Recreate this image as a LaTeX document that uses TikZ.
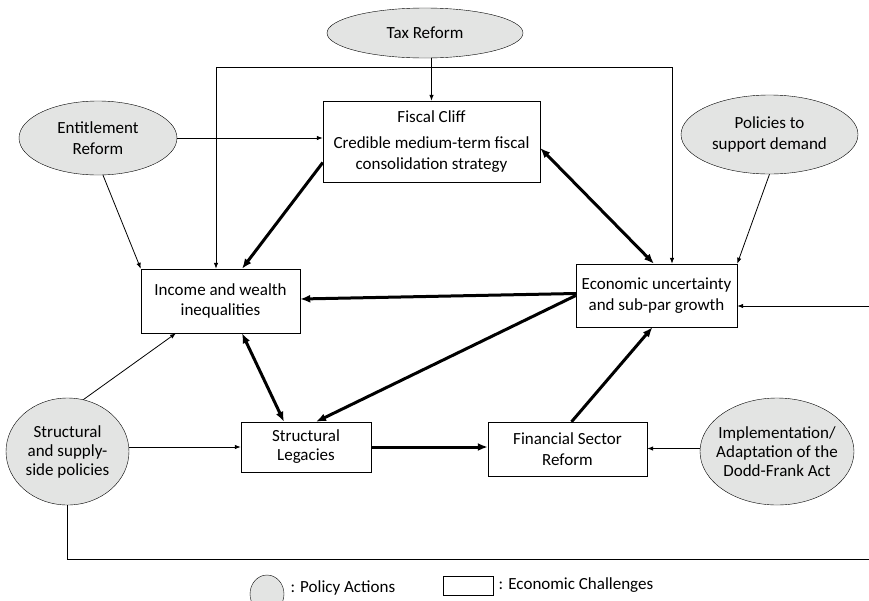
\documentclass[tikz,border=0pt]{standalone}
\usepackage{fontspec}
\setmainfont{Carlito}
\usetikzlibrary{shapes.geometric}
\usetikzlibrary{positioning}
\usetikzlibrary{arrows.meta}
\definecolor{policygrey}{RGB}{227,228,227}
\tikzset{policy/.style={ellipse, draw, fill=policygrey, inner sep=0pt, align=center},
challenge/.style={rectangle, draw, fill=white, inner sep=0pt, align=center},
weak/.style={-{Latex[length=6pt,width=4.5pt]}, line width=0.8pt},
strong/.style={-{Latex[length=10pt,width=8pt]}, line width=3pt},
mutual/.style={{Latex[length=10pt,width=8pt]}-{Latex[length=10pt,width=8pt]}, line width=3pt}}

\begin{document}
\begin{tikzpicture}[x=1pt, y=-1pt, font=\fontsize{17}{20.5}\selectfont]
\useasboundingbox (0,0) rectangle (869,600);
% policy actions
\node[policy, minimum width=196pt, minimum height=50pt] (tax) at (425,33) {Tax Reform};
\node[policy, minimum width=158pt, minimum height=74pt] (entitle) at (98,138) {Entitlement\\Reform};
\node[policy, minimum width=177pt, minimum height=79pt] (demand) at (769.5,134.5) {Policies to\\support demand};
\node[policy, minimum width=123pt, minimum height=107pt, font=\fontsize{17}{19}\selectfont] (supply) at (67.5,451.5) {Structural\\and supply-\\side policies};
\node[policy, minimum width=154pt, minimum height=107pt, inner xsep=-15pt, font=\fontsize{17}{19}\selectfont] (dodd) at (777,451.5) {Implementation/\\Adaptation of the\\Dodd-Frank Act};
% economic challenges
\node[challenge, minimum width=217pt, minimum height=81pt] (fiscal) at (431.5,141.5) {Fiscal Cliff\\[6pt]Credible medium-term fiscal\\consolidation strategy};
\node[challenge, minimum width=159pt, minimum height=64pt] (income) at (220.5,301) {Income and wealth\\inequalities};
\node[challenge, minimum width=161pt, minimum height=63pt] (eco) at (656.5,295.5) {Economic uncertainty\\and sub-par growth};
\node[challenge, minimum width=130pt, minimum height=50pt, font=\fontsize{17}{19}\selectfont] (legacies) at (306,447) {Structural\\Legacies};
\node[challenge, minimum width=159pt, minimum height=54pt] (financial) at (567.5,449) {Financial Sector\\Reform};
% legend
\node[policy, minimum width=34pt, minimum height=38pt] (keypolicy) at (267,594) {};
\node[anchor=west] (keypolicytext) at (287,588) {: Policy Actions};
\node[challenge, minimum width=50pt, minimum height=19pt] (keychallenge) at (468,585.5) {};
\node[right=2pt of keychallenge] (keychallengetext) {: Economic Challenges};

\coordinate (split) at (fiscal.north |- 0,67);
\draw[weak] (tax.south -| fiscal.north) -- (fiscal.north);
\draw[weak] (split) -| ([xshift=-4.5pt]income.north);
\draw[weak] (split) -| ([xshift=15.5pt]eco.north);
\draw[weak] (entitle.east) -- (entitle.east -| fiscal.west);
\draw[weak] ([xshift=5pt]entitle.south) -- (income.north west);
\draw[weak] (demand.south) -- (eco.north east);
\draw[weak] (supply.73) -- ([xshift=-44.5pt]income.south);
\draw[weak] (supply.east |- legacies.west) -- (legacies.west);
\draw[weak] ([yshift=3pt]dodd.west) -- ([yshift=3pt]dodd.west -| financial.east);
\draw[weak] (supply.south) |- (880,559) -- (880,306) -- ([yshift=-10.5pt]eco.east);
\draw[strong] ([yshift=-21pt]fiscal.west) -- ([xshift=21.5pt]income.north);
\draw[mutual] ([yshift=-6.5pt]fiscal.east) -- ([xshift=-2.5pt]eco.north);
\draw[strong] ([yshift=2pt]eco.west) -- ([yshift=2pt]income.east);
\draw[strong] (eco.west) -- ([xshift=10pt]legacies.north);
\draw[mutual] ([xshift=21.5pt]income.south) -- ([xshift=-22pt]legacies.north);
\draw[strong] (legacies.east) -- (legacies.east -| financial.west);
\draw[strong] ([xshift=4pt]financial.north) -- ([xshift=-4pt]eco.south);
\end{tikzpicture}
\end{document}
